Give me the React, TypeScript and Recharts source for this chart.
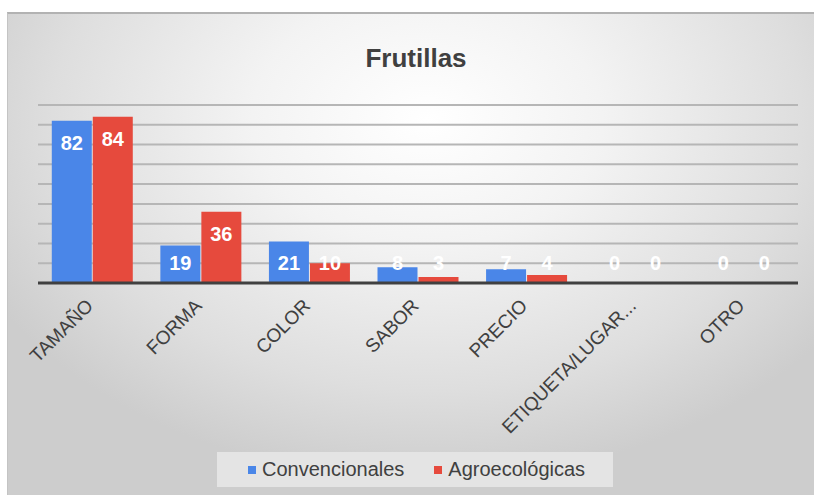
import React from 'react';
import { BarChart, Bar, XAxis, YAxis, CartesianGrid, Legend, LabelList } from 'recharts';

const title = 'Frutillas';
const categories = ['TAMAÑO', 'FORMA', 'COLOR', 'SABOR', 'PRECIO', 'ETIQUETA/LUGAR...', 'OTRO'];
const convencionales = [82, 19, 21, 8, 7, 0, 0];
const agroecologicas = [84, 36, 10, 3, 4, 0, 0];
const seriesNames = ['Convencionales', 'Agroecológicas'];
const seriesColors = ['#4a86e8', '#e64a3d'];
const yTicks = [0, 10, 20, 30, 40, 50, 60, 70, 80, 90];

const data = categories.map((c, i) => ({
  name: c,
  conv: convencionales[i],
  agro: agroecologicas[i],
}));

const FONT = '"Liberation Sans", Arial, sans-serif';

const AxisTick = (props: any) => {
  const { x, y, payload } = props;
  return (
    <g transform={`translate(${x + 2},${y + 24})`}>
      <text transform="rotate(-45)" textAnchor="end" fill="#404040" fontSize={19} fontFamily={FONT}>
        {payload.value}
      </text>
    </g>
  );
};

const BarLabel = (props: any) => {
  const { x, y, width, height, value } = props;
  const h = Number(height) || 0;
  const cy = Math.min(y + 22, y + h - 20);
  return (
    <text
      x={x + width / 2}
      y={cy}
      textAnchor="middle"
      dominantBaseline="central"
      fill="#ffffff"
      fontSize={20}
      fontWeight="bold"
      fontFamily={FONT}
    >
      {String(value)}
    </text>
  );
};

const LegendContent = (props: any) => {
  const payload = [...(props.payload || [])].sort(
    (a: any, b: any) => seriesNames.indexOf(a.value) - seriesNames.indexOf(b.value)
  );
  return (
    <div
      style={{
        width: 396,
        height: 35,
        background: '#e4e4e4',
        display: 'flex',
        alignItems: 'center',
        paddingLeft: 31,
        boxSizing: 'border-box',
        fontFamily: FONT,
        fontSize: 20,
        color: '#404040',
      }}
    >
      {payload.map((p: any, i: number) => (
        <div key={i} style={{ display: 'flex', alignItems: 'center', marginRight: i === 0 ? 30 : 0 }}>
          <span style={{ display: 'inline-block', width: 8, height: 8, background: p.color, marginRight: 6 }} />
          <span>{p.value}</span>
        </div>
      ))}
    </div>
  );
};

export default function App() {
  return (
    <div style={{ position: 'absolute', left: 0, top: 0, width: 814, height: 495, background: '#ffffff', overflow: 'hidden' }}>
      <div
        style={{
          position: 'absolute',
          left: 7,
          top: 12,
          width: 807,
          height: 483,
          boxSizing: 'border-box',
          borderTop: '2px solid #b2b2b2',
          borderLeft: '1px solid #c4c4c4',
          background:
            'radial-gradient(ellipse 62% 75% at 52% 22%, #ffffff 0%, #f3f3f3 35%, #dedede 75%, #cdcdcd 100%)',
        }}
      />
      <div
        style={{
          position: 'absolute',
          left: 316,
          top: 45,
          width: 200,
          textAlign: 'center',
          fontFamily: FONT,
          fontWeight: 'bold',
          fontSize: 26,
          lineHeight: '26px',
          color: '#404040',
        }}
      >
        {title}
      </div>
      <div style={{ position: 'absolute', left: 0, top: 0 }}>
        <BarChart
          width={814}
          height={495}
          data={data}
          margin={{ top: 105, right: 16, left: 38, bottom: 0 }}
          barCategoryGap="12.7%"
          barGap={1}
        >
          <CartesianGrid vertical={false} stroke="#b6b6b6" strokeWidth={2} />
          <YAxis hide domain={[0, 90]} ticks={yTicks} interval={0} />
          <XAxis
            dataKey="name"
            height={212}
            interval={0}
            tickLine={false}
            tickSize={0}
            tickMargin={0}
            axisLine={{ stroke: '#404040', strokeWidth: 3 }}
            tick={<AxisTick />}
          />
          <Legend
            layout="vertical"
            align="center"
            verticalAlign="middle"
            wrapperStyle={{ position: 'absolute', left: 217, top: 452, width: 396, height: 35 }}
            content={<LegendContent />}
          />
          <Bar dataKey="conv" name={seriesNames[0]} fill={seriesColors[0]} isAnimationActive={false} minPointSize={0.01}>
            <LabelList dataKey="conv" content={<BarLabel />} />
          </Bar>
          <Bar dataKey="agro" name={seriesNames[1]} fill={seriesColors[1]} isAnimationActive={false} minPointSize={0.01}>
            <LabelList dataKey="agro" content={<BarLabel />} />
          </Bar>
        </BarChart>
      </div>
    </div>
  );
}
